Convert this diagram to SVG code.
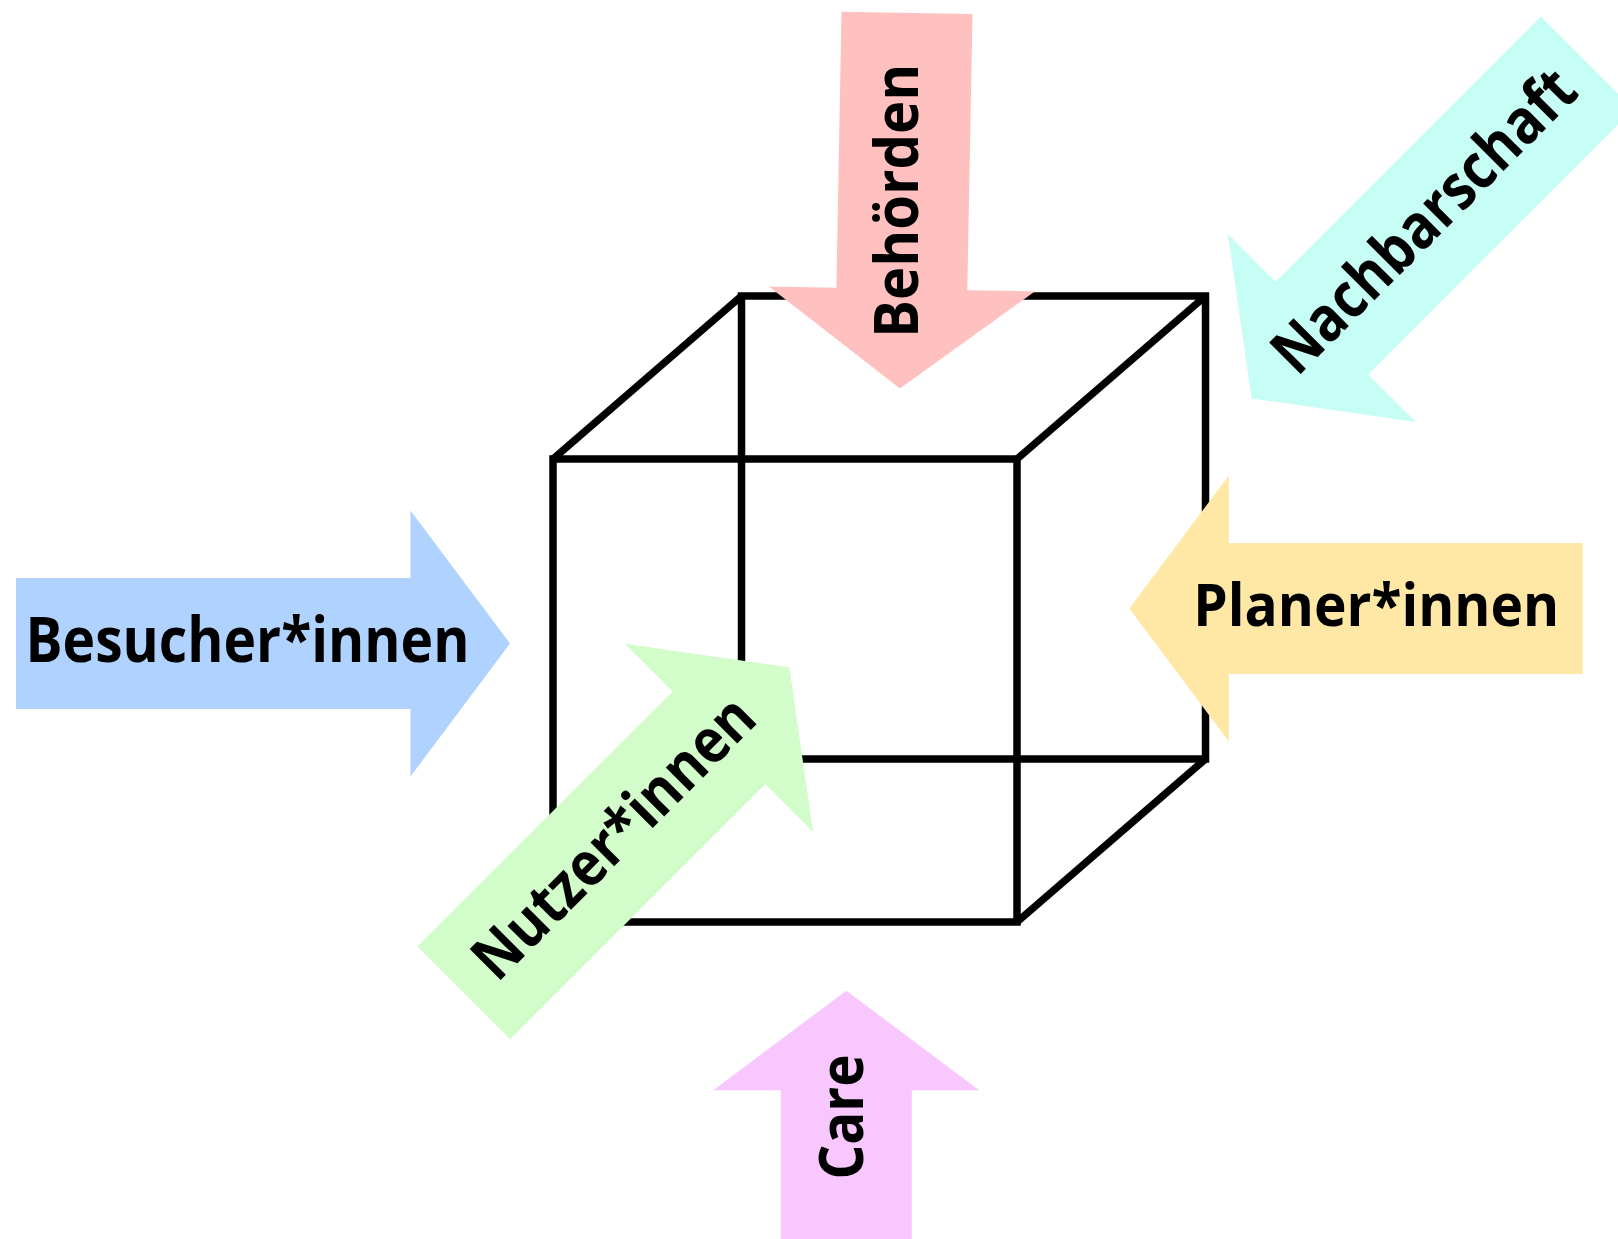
<svg xmlns="http://www.w3.org/2000/svg" width="1618" height="1239" viewBox="0 0 1618 1239">
  <style>
    .edge { fill: none; stroke: #000; stroke-width: 7.5; stroke-linejoin: miter; stroke-linecap: butt; }
    .lbl { font-family: "Open Sans", "Noto Sans", "DejaVu Sans", sans-serif; font-weight: 700; fill: #000; }
    .blue { fill: #AFD2FE; }
    .pink { fill: #FEC1BF; }
    .cyan { fill: #C6FDF5; }
    .yellow { fill: #FFE7A5; }
    .green { fill: #D2FCC9; }
    .magenta { fill: #F7C7FE; }
  </style>
  <rect x="0" y="0" width="1618" height="1239" fill="#FFFFFF"/>

  <g id="cube">
    <polygon class="edge" points="741.5,296 1205.5,296 1205.5,759 741.5,759"/>
    <polygon class="edge" points="553,459 1017,459 1017,922 553,922"/>
    <line class="edge" x1="553" y1="459" x2="741.5" y2="296"/>
    <line class="edge" x1="1017" y1="459" x2="1205.5" y2="296"/>
    <line class="edge" x1="1017" y1="922" x2="1205.5" y2="759"/>
    <line class="edge" x1="553" y1="922" x2="741.5" y2="759"/>
  </g>

  <g id="connectors"></g>

  <g id="behoerden">
    <path class="pink" transform="translate(907,12.85) rotate(91.07)" d="M0,-65.5 H276.1 V-133 L375.6,0 L276.1,133 V65.5 H0 Z"/>
    <text class="lbl" font-size="61" text-anchor="middle" textLength="274" lengthAdjust="spacingAndGlyphs" transform="translate(918.3,200.8) rotate(-90)">Behörden</text>
  </g>

  <g id="nachbarschaft">
    <path class="cyan" transform="translate(1587.3,62.7) rotate(135)" d="M0,-65.5 H375.3 V-133 L474.8,0 L375.3,133 V65.5 H0 Z"/>
    <text class="lbl" font-size="62.5" text-anchor="middle" textLength="401" lengthAdjust="spacingAndGlyphs" transform="translate(1438.9,235.8) rotate(-45)">Nachbarschaft</text>
  </g>

  <g id="besucherinnen">
    <path class="blue" transform="translate(16,643.5)" d="M0,-65.5 H394.5 V-133 L494,0 L394.5,133 V65.5 H0 Z"/>
    <text class="lbl" font-size="63" text-anchor="middle" textLength="444" lengthAdjust="spacingAndGlyphs" x="247.5" y="661.7">Besucher*innen</text>
  </g>

  <g id="planerinnen">
    <path class="yellow" transform="translate(1582.7,608.5) rotate(180)" d="M0,-65.5 H353.9 V-133 L453.4,0 L353.9,133 V65.5 H0 Z"/>
    <text class="lbl" font-size="59" text-anchor="middle" textLength="366" lengthAdjust="spacingAndGlyphs" x="1376.2" y="625.7">Planer*innen</text>
  </g>

  <g id="nutzerinnen">
    <path class="green" transform="translate(463.8,992.9) rotate(-45)" d="M0,-65.5 H360.9 V-133 L460.4,0 L360.9,133 V65.5 H0 Z"/>
    <text class="lbl" font-size="61.5" text-anchor="middle" textLength="371" lengthAdjust="spacingAndGlyphs" transform="translate(628.3,852.4) rotate(-45)">Nutzer*innen</text>
  </g>

  <g id="care">
    <path class="magenta" transform="translate(846.3,1260) rotate(-90)" d="M0,-65.5 H169.8 V-133 L269.3,0 L169.8,133 V65.5 H0 Z"/>
    <text class="lbl" font-size="61" text-anchor="middle" textLength="125" lengthAdjust="spacingAndGlyphs" transform="translate(863.3,1117) rotate(-90)">Care</text>
  </g>
</svg>
